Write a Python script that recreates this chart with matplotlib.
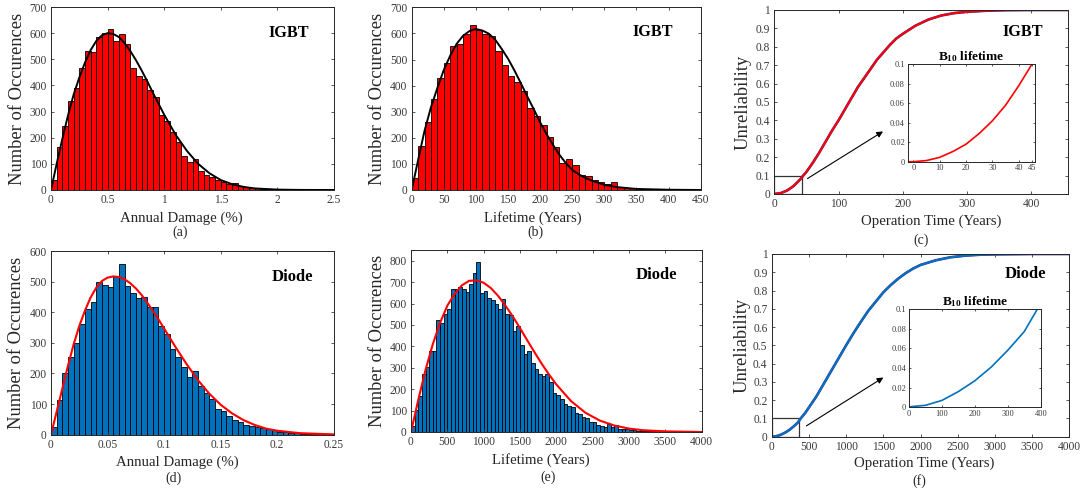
import numpy as np
import matplotlib
matplotlib.use("Agg")
import matplotlib.pyplot as plt
from matplotlib.patches import Rectangle

plt.rcParams['font.family'] = 'serif'
plt.rcParams['font.serif'] = ['Liberation Serif', 'DejaVu Serif']
plt.rcParams['mathtext.fontset'] = 'custom'
plt.rcParams['mathtext.rm'] = 'Liberation Serif'
plt.rcParams['mathtext.bf'] = 'Liberation Serif:bold'

# ---------------- data ----------------
# (a) IGBT annual damage histogram, bins of 0.05 % from 0
dmg_igbt_binw = 0.05
dmg_igbt_counts = [40, 165, 244, 339, 392, 465, 531, 528, 586, 600,
                   614, 569, 596, 560, 465, 437, 423, 381, 356, 286,
                   265, 220, 184, 130, 109, 119, 74, 59, 50, 40,
                   31, 22, 27, 16, 11, 8, 6, 5, 4, 3,
                   3, 2, 2, 1, 1, 1, 1, 0, 0, 0]
dmg_igbt_fit_x = [0, 0.05, 0.1, 0.15, 0.2, 0.25, 0.3, 0.35, 0.4, 0.45, 0.5, 0.55, 0.6, 0.65,
                  0.7, 0.75, 0.8, 0.85, 0.9, 0.95, 1.0, 1.1, 1.2, 1.3, 1.4, 1.5, 1.6, 1.7,
                  1.8, 2.0, 2.2, 2.5]
dmg_igbt_fit_y = [0, 100, 195, 285, 365, 430, 487, 535, 570, 592, 600, 597, 585, 562,
                  532, 497, 458, 416, 372, 330, 288, 212, 150, 100, 64, 38, 22, 12,
                  6, 1.5, 0.3, 0]

# (b) IGBT lifetime histogram, bins of 10 years
life_igbt_binw = 10
life_igbt_counts = [45, 169, 260, 350, 428, 486, 553, 559, 597, 633,
                    614, 599, 591, 532, 478, 438, 412, 379, 314, 283,
                    249, 203, 164, 104, 119, 95, 58, 53, 38, 32,
                    22, 30, 13, 9, 7, 5, 4, 3, 2, 2,
                    1, 1, 1, 0, 0]
life_igbt_fit_x = [0, 10, 20, 30, 40, 50, 60, 70, 80, 90, 100, 110, 120, 130, 140, 150, 160,
                   170, 180, 190, 200, 210, 220, 230, 240, 250, 260, 270, 280, 300, 320,
                   350, 400, 450]
life_igbt_fit_y = [0, 115, 227, 317, 391, 460, 515, 560, 591, 609, 617, 611, 599, 576, 541,
                   503, 458, 409, 358, 310, 259, 214, 173, 135, 103, 77, 60, 47, 36, 20, 11,
                   4, 1, 0]

# (c) IGBT unreliability
unrel_igbt_t = [0, 10, 20, 30, 40, 45, 50, 60, 70, 80, 90, 100, 110, 120, 130, 140, 150, 160,
                170, 180, 190, 200, 220, 240, 260, 280, 300, 330, 360, 400, 457]
unrel_igbt_F = [0, 0.005, 0.019, 0.043, 0.078, 0.1, 0.12, 0.17, 0.225, 0.285, 0.345, 0.40,
                0.46, 0.52, 0.58, 0.63, 0.68, 0.73, 0.77, 0.81, 0.845, 0.87, 0.915, 0.948,
                0.97, 0.983, 0.99, 0.996, 0.999, 1.0, 1.0]
b10_igbt_t = [-2.2, 0, 5, 10, 15, 20, 25, 30, 35, 40, 45, 46.3]
b10_igbt_F = [0, 0, 0.0012, 0.0045, 0.0105, 0.018, 0.029, 0.042, 0.058, 0.078, 0.1, 0.106]

# (d) Diode annual damage histogram, bins of 0.005 %
dmg_diode_binw = 0.005
dmg_diode_counts = [25, 112, 201, 254, 298, 361, 409, 433, 500, 488,
                    482, 517, 558, 486, 463, 446, 450, 417, 417, 355,
                    328, 279, 253, 220, 188, 207, 158, 135, 115, 84,
                    79, 60, 47, 42, 31, 30, 24, 23, 18, 15,
                    10, 8, 5, 4, 3, 2, 2, 1, 1, 0]
dmg_diode_fit_x = [0, 0.005, 0.01, 0.015, 0.02, 0.025, 0.03, 0.035, 0.04, 0.045, 0.05, 0.055,
                   0.06, 0.065, 0.07, 0.075, 0.08, 0.085, 0.09, 0.095, 0.1, 0.11, 0.12, 0.13,
                   0.14, 0.15, 0.16, 0.17, 0.18, 0.19, 0.2, 0.22, 0.25]
dmg_diode_fit_y = [0, 75, 150, 225, 295, 355, 405, 448, 480, 502, 513, 517,
                   515, 508, 495, 478, 457, 432, 405, 377, 347, 287, 230, 178,
                   134, 98, 70, 48, 32, 20, 13, 5, 1]

# (e) Diode lifetime histogram, bins of 50 years
life_diode_binw = 50
life_diode_counts = [30, 105, 170, 272, 305, 376, 376, 525, 510, 553,
                     575, 669, 669, 678, 666, 654, 691, 744, 795, 649,
                     658, 627, 616, 598, 575, 623, 553, 548, 472, 494,
                     408, 363, 377, 320, 293, 273, 261, 270, 233, 183,
                     171, 155, 130, 121, 118, 87, 84, 71, 64, 48,
                     45, 34, 30, 25, 37, 22, 34, 16, 14, 12,
                     10, 8, 7, 5, 5, 4, 3, 3, 2, 2,
                     2, 1, 1, 1, 1, 0, 0, 0, 0, 0]
life_diode_fit_x = [0, 100, 200, 300, 400, 500, 600, 700, 800, 900, 1000, 1100, 1200, 1300,
                    1400, 1500, 1600, 1700, 1800, 1900, 2000, 2200, 2400, 2600, 2800, 3000,
                    3200, 3500, 4000]
life_diode_fit_y = [0, 150, 290, 410, 510, 590, 645, 685, 706, 708, 697, 672, 635, 590,
                    540, 485, 428, 372, 318, 268, 222, 145, 90, 53, 30, 16,
                    8, 3, 0]

# (f) Diode unreliability
unrel_diode_t = [0, 50, 100, 150, 200, 250, 300, 350, 390, 450, 500, 600, 700, 800, 900, 1000,
                 1100, 1200, 1300, 1400, 1500, 1600, 1700, 1800, 1900, 2000, 2200, 2400,
                 2600, 2800, 3000, 3500, 4000]
unrel_diode_F = [0, 0.002, 0.007, 0.016, 0.027, 0.041, 0.058, 0.077, 0.1, 0.13, 0.16, 0.22,
                 0.29, 0.36, 0.43, 0.5, 0.567, 0.63, 0.69, 0.74, 0.79, 0.83, 0.865, 0.895,
                 0.92, 0.94, 0.965, 0.982, 0.991, 0.996, 0.998, 1.0, 1.0]
b10_diode_t = [0, 50, 100, 150, 200, 250, 300, 350, 390, 400]
b10_diode_F = [0.0005, 0.002, 0.007, 0.016, 0.027, 0.041, 0.058, 0.077, 0.1, 0.106]

# ---------------- styling ----------------
W, H = 1080, 492
fig = plt.figure(figsize=(W / 100, H / 100), dpi=100)
DARK = '#262626'
TICKC = '#3a3a3a'
RED = '#ff0000'
BLUE = '#0072bd'


def add_ax(l, r, t, b):
    return fig.add_axes([l / W, 1 - b / H, (r - l) / W, (b - t) / H])


def style(ax, fs=8.3, tl=2.2):
    ax.tick_params(direction='in', top=True, right=True, length=tl, width=0.6,
                   colors=TICKC, labelsize=fs, pad=3)
    for s in ax.spines.values():
        s.set_color(DARK)
        s.set_linewidth(0.7)


def labels(ax, xl, yl, xc, yc, ylx):
    ax.set_xlabel(xl, fontsize=10.7, color=DARK, va='center')
    ax.set_ylabel(yl, fontsize=13.3, color=DARK, va='center')
    pos = ax.get_position()
    l, b, w, h = pos.x0 * W, (1 - pos.y1) * H, pos.width * W, pos.height * H
    ax.xaxis.set_label_coords((xc - l) / w, (b + h - yc) / h)
    ax.yaxis.set_label_coords((ylx - l) / w, 0.5)


def hist(ax, counts, binw, color):
    edges = np.arange(len(counts)) * binw
    ax.bar(edges, counts, width=binw, align='edge', color=color,
           edgecolor='black', linewidth=0.6)


# (a)
ax = add_ax(51, 334, 7, 190)
hist(ax, dmg_igbt_counts, dmg_igbt_binw, RED)
ax.plot(dmg_igbt_fit_x, dmg_igbt_fit_y, color='black', lw=1.4)
ax.set_xlim(0, 2.5); ax.set_ylim(0, 700)
ax.set_xticks([0, 0.5, 1, 1.5, 2, 2.5]); ax.set_xticklabels(['0', '0.5', '1', '1.5', '2', '2.5'])
ax.set_yticks(range(0, 701, 100))
style(ax)
labels(ax, 'Annual Damage (%)', 'Number of Occurences', 181, 218, 18)
fig.text(289 / W, 1 - 33 / H, 'IGBT', fontsize=11.7, fontweight='bold', ha='center', va='center')
fig.text(180 / W, 1 - 232 / H, '(a)', fontsize=10, color=DARK, ha='center', va='center')

# (b)
ax = add_ax(411.7, 700.7, 7.3, 190)
hist(ax, life_igbt_counts, life_igbt_binw, RED)
ax.plot(life_igbt_fit_x, life_igbt_fit_y, color='black', lw=1.4)
ax.set_xlim(0, 450); ax.set_ylim(0, 700)
ax.set_xticks(range(0, 451, 50)); ax.set_yticks(range(0, 701, 100))
style(ax)
labels(ax, 'Lifetime (Years)', 'Number of Occurences', 533, 218, 378)
fig.text(653 / W, 1 - 32 / H, 'IGBT', fontsize=11.7, fontweight='bold', ha='center', va='center')
fig.text(535 / W, 1 - 232 / H, '(b)', fontsize=10, color=DARK, ha='center', va='center')

# (c)
ax = add_ax(774.3, 1067.7, 10, 194)
ax.plot(unrel_igbt_t, unrel_igbt_F, color='#3030a0', lw=1.9)
ax.plot(unrel_igbt_t, unrel_igbt_F, color=RED, lw=1.5)
ax.set_xlim(0, 457); ax.set_ylim(0, 1)
ax.set_xticks(range(0, 401, 100))
ax.set_yticks(np.round(np.arange(0, 1.01, 0.1), 1))
ax.set_yticklabels(['0', '0.1', '0.2', '0.3', '0.4', '0.5', '0.6', '0.7', '0.8', '0.9', '1'])
style(ax)
labels(ax, 'Operation Time (Years)', 'Unreliability', 931, 221, 743)
ax.add_patch(Rectangle((0, 0), 43, 0.1, fill=False, edgecolor='#333333', lw=0.9))
ax.annotate('', xy=(173, 0.348), xytext=(48, 0.076),
            arrowprops=dict(arrowstyle='-|>', color='black', lw=0.8, mutation_scale=9))
ax.text(387, 0.882, 'IGBT', fontsize=11.7, fontweight='bold', ha='center', va='center')
fig.text(921 / W, 1 - 240 / H, '(c)', fontsize=10, color=DARK, ha='center', va='center')

ins = add_ax(907.7, 1035.3, 64.3, 161.7)
ins.plot(b10_igbt_t, b10_igbt_F, color=RED, lw=1.2)
ins.set_xlim(-2.2, 46.3); ins.set_ylim(0, 0.1)
ins.set_xticks([0, 10, 20, 30, 40, 45])
ins.set_yticks([0, 0.02, 0.04, 0.06, 0.08, 0.1])
ins.set_yticklabels(['0', '0.02', '0.04', '0.06', '0.08', '0.1'])
style(ins, fs=6, tl=1.6)
ins.tick_params(pad=2)
ins.set_title(r'$\mathbf{B_{10}}$ lifetime', fontsize=9.5, fontweight='bold', pad=3)

# (d)
ax = add_ax(51, 333.7, 251, 434.7)
hist(ax, dmg_diode_counts, dmg_diode_binw, BLUE)
ax.plot(dmg_diode_fit_x, dmg_diode_fit_y, color=RED, lw=1.5)
ax.set_xlim(0, 0.25); ax.set_ylim(0, 600)
ax.set_xticks([0, 0.05, 0.1, 0.15, 0.2, 0.25])
ax.set_xticklabels(['0', '0.05', '0.1', '0.15', '0.2', '0.25'])
ax.set_yticks(range(0, 601, 100))
style(ax)
labels(ax, 'Annual Damage (%)', 'Number of Occurences', 177, 462.5, 17)
fig.text(292 / W, 1 - 277 / H, 'Diode', fontsize=12, fontweight='bold', ha='center', va='center')
fig.text(174 / W, 1 - 478 / H, '(d)', fontsize=10, color=DARK, ha='center', va='center')

# (e)
ax = add_ax(411, 701.7, 250, 432)
hist(ax, life_diode_counts, life_diode_binw, BLUE)
ax.plot(life_diode_fit_x, life_diode_fit_y, color=RED, lw=1.5)
ax.set_xlim(0, 4000); ax.set_ylim(0, 850)
ax.set_xticks(range(0, 4001, 500)); ax.set_yticks(range(0, 801, 100))
style(ax)
labels(ax, 'Lifetime (Years)', 'Number of Occurences', 541, 460, 378)
fig.text(656 / W, 1 - 275 / H, 'Diode', fontsize=12, fontweight='bold', ha='center', va='center')
fig.text(548 / W, 1 - 477 / H, '(e)', fontsize=10, color=DARK, ha='center', va='center')

# (f)
ax = add_ax(771.7, 1069.3, 254, 436.7)
ax.plot(unrel_diode_t, unrel_diode_F, color='#5030a0', lw=1.9)
ax.plot(unrel_diode_t, unrel_diode_F, color=BLUE, lw=1.5)
ax.set_xlim(0, 4000); ax.set_ylim(0, 1)
ax.set_xticks(range(0, 4001, 500))
ax.set_yticks(np.round(np.arange(0, 1.01, 0.1), 1))
ax.set_yticklabels(['0', '0.1', '0.2', '0.3', '0.4', '0.5', '0.6', '0.7', '0.8', '0.9', '1'])
style(ax)
labels(ax, 'Operation Time (Years)', 'Unreliability', 924, 463, 742)
ax.add_patch(Rectangle((0, 0), 372, 0.1, fill=False, edgecolor='#333333', lw=0.9))
ax.annotate('', xy=(1532, 0.332), xytext=(434, 0.051),
            arrowprops=dict(arrowstyle='-|>', color='black', lw=0.8, mutation_scale=9))
ax.text(3410, 0.888, 'Diode', fontsize=12, fontweight='bold', ha='center', va='center')
fig.text(919 / W, 1 - 481 / H, '(f)', fontsize=10, color=DARK, ha='center', va='center')

ins = add_ax(909, 1040.7, 309, 407.3)
ins.plot(b10_diode_t, b10_diode_F, color=BLUE, lw=1.2)
ins.set_xlim(0, 400); ins.set_ylim(0, 0.1)
ins.set_xticks([0, 100, 200, 300, 400])
ins.set_yticks([0, 0.02, 0.04, 0.06, 0.08, 0.1])
ins.set_yticklabels(['0', '0.02', '0.04', '0.06', '0.08', '0.1'])
style(ins, fs=6, tl=1.6)
ins.tick_params(pad=2)
ins.set_title(r'$\mathbf{B_{10}}$ lifetime', fontsize=9.5, fontweight='bold', pad=3)

fig.savefig('out.png', dpi=100)
